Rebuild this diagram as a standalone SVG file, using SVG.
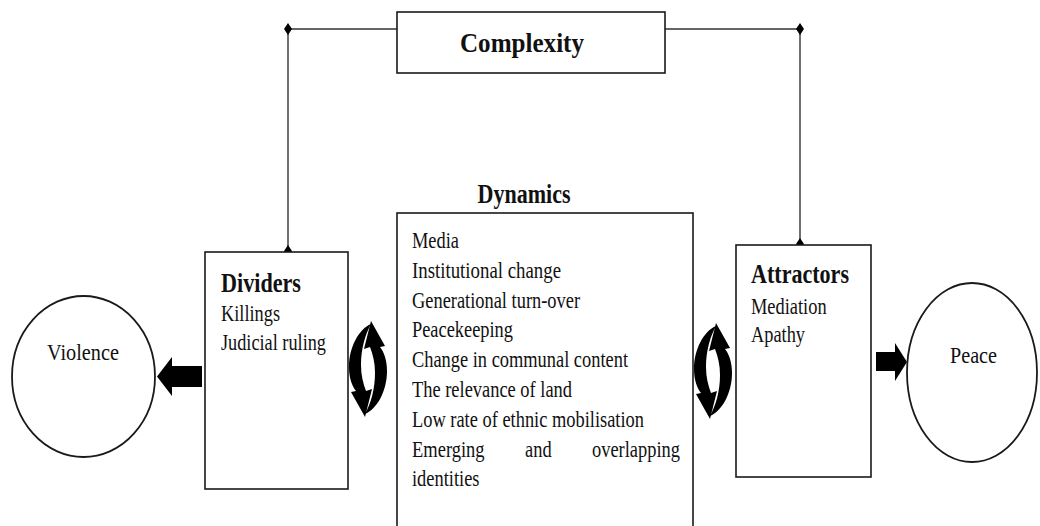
<svg xmlns="http://www.w3.org/2000/svg" width="1040" height="526" viewBox="0 0 1040 526">
<style>
.box{fill:#fff;stroke:#1a1a1a;stroke-width:1.6}
.ell{fill:#fff;stroke:#1a1a1a;stroke-width:1.8}
.ln{fill:none;stroke:#333;stroke-width:1.4}
.t{font-family:"Liberation Serif","Times New Roman",serif;font-size:24px;fill:#111}
.h{font-family:"Liberation Serif","Times New Roman",serif;font-size:27px;font-weight:bold;fill:#111}
.blk{fill:#000}
</style>
<defs>
<path id="dia" d="M0,-6 L4,0 L0,6 L-4,0 Z" fill="#000"/>
<path id="lpiece" d="M3,-45 C-9,-40 -19,-22 -19,-2 C-19,9 -16,17 -12,22 L-17,23 L-3,48 L4,20 L-2,22 C-5,14 -7,6 -7,-4 C-7,-20 -3,-34 3,-45 Z" fill="#000"/>
<path id="rpiece" d="M-3,45 C9,40 19,22 19,2 C19,-9 16,-17 12,-22 L17,-23 L3,-48 L-4,-20 L2,-22 C5,-14 7,-6 7,4 C7,20 3,34 -3,45 Z" fill="#000"/>
</defs>

<g id="connectors">
<polyline class="ln" points="397,29 288,29 288,252"/>
<polyline class="ln" points="665,29 800,29 800,245"/>
<use href="#dia" x="288" y="29"/>
<use href="#dia" x="288" y="251"/>
<use href="#dia" x="800" y="29"/>
<use href="#dia" x="800" y="244"/>
<path class="blk" d="M202,366 L172,366 L172,357 L157,376.5 L172,396 L172,387 L202,387 Z"/>
<path class="blk" d="M876,352 L895,352 L895,343 L907,362 L895,381 L895,371 L876,371 Z"/>
<g transform="translate(368,369)"><use href="#lpiece"/><use href="#rpiece"/></g>
<g transform="translate(713,371)"><use href="#lpiece"/><use href="#rpiece"/></g>
</g>

<g id="complexity">
<rect class="box" x="397" y="12" width="268" height="61"/>
<text class="h" x="522" y="52" text-anchor="middle" font-size="28" textLength="124" lengthAdjust="spacingAndGlyphs">Complexity</text>
</g>

<g id="dynamics">
<text class="h" x="524" y="203" text-anchor="middle" textLength="93" lengthAdjust="spacingAndGlyphs">Dynamics</text>
<rect class="box" x="397" y="213" width="296" height="340"/>
<text class="t" x="412" y="248" textLength="47" lengthAdjust="spacingAndGlyphs">Media</text>
<text class="t" x="412" y="277.8" textLength="149" lengthAdjust="spacingAndGlyphs">Institutional change</text>
<text class="t" x="412" y="307.6" textLength="168" lengthAdjust="spacingAndGlyphs">Generational turn-over</text>
<text class="t" x="412" y="337.4" textLength="101" lengthAdjust="spacingAndGlyphs">Peacekeeping</text>
<text class="t" x="412" y="367.2" textLength="216" lengthAdjust="spacingAndGlyphs">Change in communal content</text>
<text class="t" x="412" y="397" textLength="160" lengthAdjust="spacingAndGlyphs">The relevance of land</text>
<text class="t" x="412" y="426.8" textLength="232" lengthAdjust="spacingAndGlyphs">Low rate of ethnic mobilisation</text>
<text class="t" x="412" y="456.6" textLength="72.6" lengthAdjust="spacingAndGlyphs">Emerging</text>
<text class="t" x="525" y="456.6" textLength="26.6" lengthAdjust="spacingAndGlyphs">and</text>
<text class="t" x="592" y="456.6" textLength="88" lengthAdjust="spacingAndGlyphs">overlapping</text>
<text class="t" x="412" y="486.4" textLength="67.5" lengthAdjust="spacingAndGlyphs">identities</text>
</g>

<g id="dividers">
<rect class="box" x="205" y="252" width="143" height="237"/>
<text class="h" x="221" y="292" textLength="80" lengthAdjust="spacingAndGlyphs">Dividers</text>
<text class="t" x="221" y="321" textLength="59" lengthAdjust="spacingAndGlyphs">Killings</text>
<text class="t" x="221" y="350" textLength="105" lengthAdjust="spacingAndGlyphs">Judicial ruling</text>
</g>

<g id="attractors">
<rect class="box" x="736" y="245" width="135" height="232"/>
<text class="h" x="751" y="283" textLength="98" lengthAdjust="spacingAndGlyphs">Attractors</text>
<text class="t" x="751" y="314" textLength="75.6" lengthAdjust="spacingAndGlyphs">Mediation</text>
<text class="t" x="751" y="342" textLength="54" lengthAdjust="spacingAndGlyphs">Apathy</text>
</g>

<g id="violence">
<ellipse class="ell" cx="83.5" cy="376.5" rx="71.5" ry="80.5"/>
<text class="t" x="47" y="360" textLength="72" lengthAdjust="spacingAndGlyphs">Violence</text>
</g>

<g id="peace">
<ellipse class="ell" cx="972" cy="372.5" rx="65" ry="89.5"/>
<text class="t" x="950" y="362.5" textLength="47" lengthAdjust="spacingAndGlyphs">Peace</text>
</g>
</svg>
